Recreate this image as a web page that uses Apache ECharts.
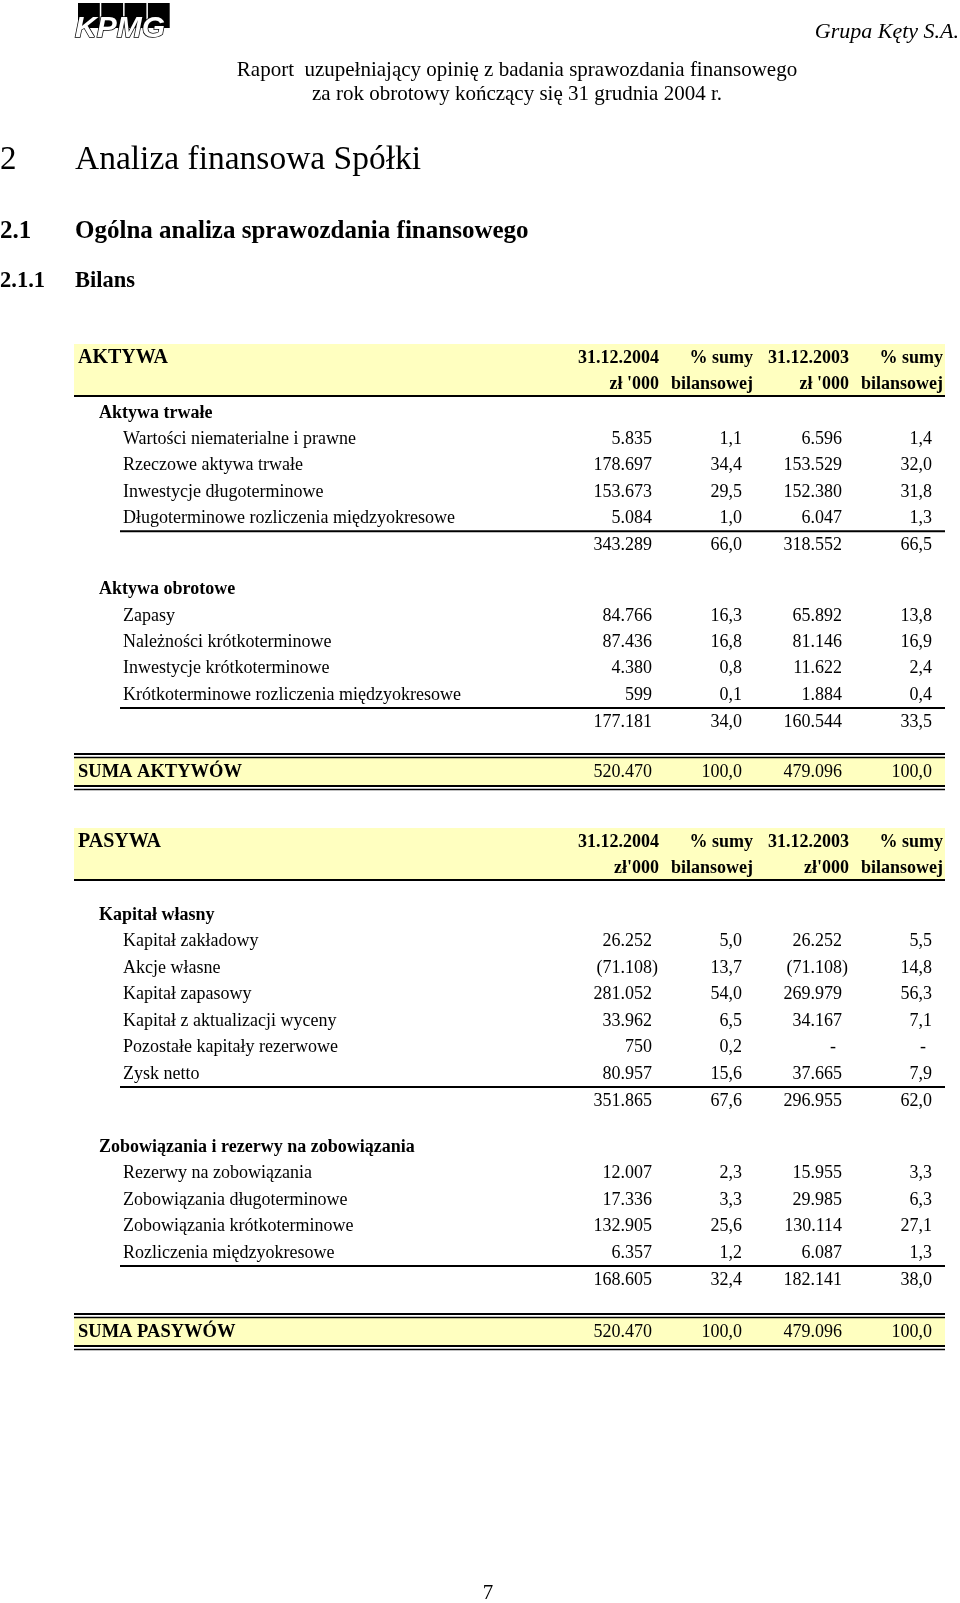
<!DOCTYPE html>
<html><head><meta charset="utf-8">
<script src="https://cdn.jsdelivr.net/npm/echarts@6/dist/echarts.min.js"></script>
<style>html,body{margin:0;padding:0;background:#fff}#c{width:960px;height:1603px}</style>
</head><body><div id="c"></div>
<script>
// ---------------- DATA ----------------
const colHeads = ['31.12.2004', '% sumy', '31.12.2003', '% sumy'];
const colSubsAktywa = ["zł '000", 'bilansowej', "zł '000", 'bilansowej'];
const colSubsPasywa = ["zł'000", 'bilansowej', "zł'000", 'bilansowej'];

const aktywaTrwaleLabels = ['Wartości niematerialne i prawne', 'Rzeczowe aktywa trwałe', 'Inwestycje długoterminowe', 'Długoterminowe rozliczenia międzyokresowe'];
const aktywaTrwale2004 = [5835, 178697, 153673, 5084];
const aktywaTrwalePct2004 = [1.1, 34.4, 29.5, 1.0];
const aktywaTrwale2003 = [6596, 153529, 152380, 6047];
const aktywaTrwalePct2003 = [1.4, 32.0, 31.8, 1.3];
const aktywaTrwaleSum = [343289, 66.0, 318552, 66.5];

const aktywaObrotoweLabels = ['Zapasy', 'Należności krótkoterminowe', 'Inwestycje krótkoterminowe', 'Krótkoterminowe rozliczenia międzyokresowe'];
const aktywaObrotowe2004 = [84766, 87436, 4380, 599];
const aktywaObrotowePct2004 = [16.3, 16.8, 0.8, 0.1];
const aktywaObrotowe2003 = [65892, 81146, 11622, 1884];
const aktywaObrotowePct2003 = [13.8, 16.9, 2.4, 0.4];
const aktywaObrotoweSum = [177181, 34.0, 160544, 33.5];

const sumaAktywow = [520470, 100.0, 479096, 100.0];

const kapitalLabels = ['Kapitał zakładowy', 'Akcje własne', 'Kapitał zapasowy', 'Kapitał z aktualizacji wyceny', 'Pozostałe kapitały rezerwowe', 'Zysk netto'];
const kapital2004 = [26252, -71108, 281052, 33962, 750, 80957];
const kapitalPct2004 = [5.0, 13.7, 54.0, 6.5, 0.2, 15.6];
const kapital2003 = [26252, -71108, 269979, 34167, null, 37665];
const kapitalPct2003 = [5.5, 14.8, 56.3, 7.1, null, 7.9];
const kapitalSum = [351865, 67.6, 296955, 62.0];

const zobowiazaniaLabels = ['Rezerwy na zobowiązania', 'Zobowiązania długoterminowe', 'Zobowiązania krótkoterminowe', 'Rozliczenia międzyokresowe'];
const zobowiazania2004 = [12007, 17336, 132905, 6357];
const zobowiazaniaPct2004 = [2.3, 3.3, 25.6, 1.2];
const zobowiazania2003 = [15955, 29985, 130114, 6087];
const zobowiazaniaPct2003 = [3.3, 6.3, 27.1, 1.3];
const zobowiazaniaSum = [168605, 32.4, 182141, 38.0];

const sumaPasywow = [520470, 100.0, 479096, 100.0];

// ---------------- LAYOUT ----------------
const SERIF = '"Liberation Serif","Times New Roman",Times,serif';
const FS = 18;
const BAND_L = 74, BAND_R = 945, RULE_L = 120;
const HEAD_X = [659, 753, 849, 943];
const VAL_X = [652, 742, 842, 932];
const YELLOW = '#ffffc0';

const cells = [];
function text(x, y, str, opt) {
  opt = opt || {};
  cells.push({ t: 'text', x: x, y: y, str: str, align: opt.align || 'left', bold: !!opt.bold, size: opt.size || FS });
}
function rule(x1, x2, y, w) { cells.push({ t: 'rule', x: x1, x2: x2, y: y, w: w }); }
function band(x1, x2, y1, y2) { cells.push({ t: 'band', x: x1, x2: x2, y: y1, y2: y2 }); }

function fmtAmt(v) {
  if (v == null) return '-';
  const s = Math.abs(v).toString().replace(/\B(?=(\d{3})+(?!\d))/g, '.');
  return v < 0 ? '(' + s + ')' : s;
}
function fmtPct(v) { return v == null ? '-' : v.toFixed(1).replace('.', ','); }

function rowVals(y, vals, bold) {
  vals.forEach(function (v, i) {
    const isAmt = i % 2 === 0;
    const s = isAmt ? fmtAmt(v) : fmtPct(v);
    let x = VAL_X[i];
    if (v == null) x -= 6; else if (isAmt && v < 0) x += 6;
    text(x, y, s, { align: 'right', bold: bold });
  });
}

function table(top, title, subs, sections, totalLabel, totals, lay) {
  band(BAND_L, BAND_R, top, top + 52);
  text(78, top + 14, title, { bold: true, size: 20 });
  colHeads.forEach(function (h, i) { text(HEAD_X[i], top + 14, h, { align: 'right', bold: true }); });
  subs.forEach(function (h, i) { text(HEAD_X[i], top + 40, h, { align: 'right', bold: true }); });
  rule(BAND_L, BAND_R, top + 52, 2);
  let y = top + 52 + lay.gapHead;
  let sub = 0;
  sections.forEach(function (sec, si) {
    if (si > 0) y = sub + lay.gapSec;
    text(99, y, sec.title, { bold: true });
    sec.labels.forEach(function (lab, k) {
      const yy = y + (k + 1) * lay.row;
      text(123, yy, lab);
      rowVals(yy, [sec.a[k], sec.ap[k], sec.b[k], sec.bp[k]], false);
    });
    const last = y + sec.labels.length * lay.row;
    rule(RULE_L, BAND_R, last + 13, 2);
    sub = last + 27.5;
    rowVals(sub, sec.sum, false);
  });
  const ys = sub + lay.gapSum;
  band(BAND_L, BAND_R, ys - 15, ys + 13.5);
  rule(BAND_L, BAND_R, ys - 18.5, 2);
  rule(BAND_L, BAND_R, ys - 15, 1.5);
  rule(BAND_L, BAND_R, ys + 13.5, 2);
  rule(BAND_L, BAND_R, ys + 17, 1.5);
  text(78, ys, totalLabel, { bold: true, size: 18.5 });
  rowVals(ys, totals, false);
}

table(344, 'AKTYWA', colSubsAktywa, [
  { title: 'Aktywa trwałe', labels: aktywaTrwaleLabels, a: aktywaTrwale2004, ap: aktywaTrwalePct2004, b: aktywaTrwale2003, bp: aktywaTrwalePct2003, sum: aktywaTrwaleSum },
  { title: 'Aktywa obrotowe', labels: aktywaObrotoweLabels, a: aktywaObrotowe2004, ap: aktywaObrotowePct2004, b: aktywaObrotowe2003, bp: aktywaObrotowePct2003, sum: aktywaObrotoweSum }
], 'SUMA AKTYWÓW', sumaAktywow, { gapHead: 17, row: 26.3, gapSec: 44, gapSum: 50 });

table(828, 'PASYWA', colSubsPasywa, [
  { title: 'Kapitał własny', labels: kapitalLabels, a: kapital2004, ap: kapitalPct2004, b: kapital2003, bp: kapitalPct2003, sum: kapitalSum },
  { title: 'Zobowiązania i rezerwy na zobowiązania', labels: zobowiazaniaLabels, a: zobowiazania2004, ap: zobowiazaniaPct2004, b: zobowiazania2003, bp: zobowiazaniaPct2003, sum: zobowiazaniaSum }
], 'SUMA PASYWÓW', sumaPasywow, { gapHead: 35, row: 26.5, gapSec: 45.5, gapSum: 52 });

// ---------------- CHART ----------------
const chart = echarts.init(document.getElementById('c'), null, { renderer: 'canvas' });

function renderItem(params, api) {
  const c = cells[params.dataIndex];
  const p = api.coord([api.value(0), api.value(1)]);
  if (c.t === 'text') {
    return {
      type: 'text', z2: 3,
      style: {
        x: p[0], y: p[1], text: c.str, fill: '#000',
        font: (c.bold ? 'bold ' : '') + c.size + 'px ' + SERIF,
        textAlign: c.align, textVerticalAlign: 'middle'
      }
    };
  }
  if (c.t === 'rule') {
    const p2 = api.coord([c.x2, c.y]);
    return {
      type: 'line', z2: 2,
      shape: { x1: p[0], y1: p[1], x2: p2[0], y2: p2[1] },
      style: { stroke: '#000', lineWidth: c.w }
    };
  }
  const p2 = api.coord([c.x2, c.y2]);
  return {
    type: 'rect', z2: 1,
    shape: { x: p[0], y: p[1], width: p2[0] - p[0], height: p2[1] - p[1] },
    style: { fill: YELLOW }
  };
}

const logoBlocks = [0, 1, 2, 3].map(function (i) {
  return { type: 'rect', shape: { x: 78 + i * 23.3, y: 3, width: 21.8, height: 25 }, style: { fill: '#000' } };
});

chart.setOption({
  animation: false,
  backgroundColor: '#fff',
  grid: { left: 0, right: 0, top: 0, bottom: 0 },
  xAxis: { type: 'value', min: 0, max: 960, show: false },
  yAxis: { type: 'value', min: 0, max: 1603, inverse: true, show: false },
  series: [{
    type: 'custom',
    silent: true,
    clip: false,
    encode: { x: 0, y: 1 },
    data: cells.map(function (c) { return [c.x, c.y]; }),
    renderItem: renderItem
  }],
  graphic: logoBlocks.concat([
    { type: 'text', style: { x: 75, y: 29, text: 'KPMG', font: 'italic bold 30px "Liberation Sans",Arial,sans-serif', fill: '#fff', stroke: '#000', lineWidth: 1.5, textVerticalAlign: 'middle' } },
    { type: 'text', style: { x: 959, y: 32, text: 'Grupa Kęty S.A.', font: 'italic 22px ' + SERIF, fill: '#000', textAlign: 'right', textVerticalAlign: 'middle' } },
    { type: 'text', style: { x: 517, y: 70, text: 'Raport  uzupełniający opinię z badania sprawozdania finansowego', font: '21px ' + SERIF, fill: '#000', textAlign: 'center', textVerticalAlign: 'middle' } },
    { type: 'text', style: { x: 517, y: 94, text: 'za rok obrotowy kończący się 31 grudnia 2004 r.', font: '21px ' + SERIF, fill: '#000', textAlign: 'center', textVerticalAlign: 'middle' } },
    { type: 'text', style: { x: 0, y: 160, text: '2', font: '33px ' + SERIF, fill: '#000', textVerticalAlign: 'middle' } },
    { type: 'text', style: { x: 75, y: 160, text: 'Analiza finansowa Spółki', font: '33.5px ' + SERIF, fill: '#000', textVerticalAlign: 'middle' } },
    { type: 'text', style: { x: 0, y: 232, text: '2.1', font: 'bold 25px ' + SERIF, fill: '#000', textVerticalAlign: 'middle' } },
    { type: 'text', style: { x: 75, y: 232, text: 'Ogólna analiza sprawozdania finansowego', font: 'bold 25px ' + SERIF, fill: '#000', textVerticalAlign: 'middle' } },
    { type: 'text', style: { x: 0, y: 281, text: '2.1.1', font: 'bold 22.5px ' + SERIF, fill: '#000', textVerticalAlign: 'middle' } },
    { type: 'text', style: { x: 75, y: 281, text: 'Bilans', font: 'bold 22.5px ' + SERIF, fill: '#000', textVerticalAlign: 'middle' } },
    { type: 'text', style: { x: 488, y: 1593, text: '7', font: '21px ' + SERIF, fill: '#000', textAlign: 'center', textVerticalAlign: 'middle' } }
  ])
});
</script>
</body></html>
